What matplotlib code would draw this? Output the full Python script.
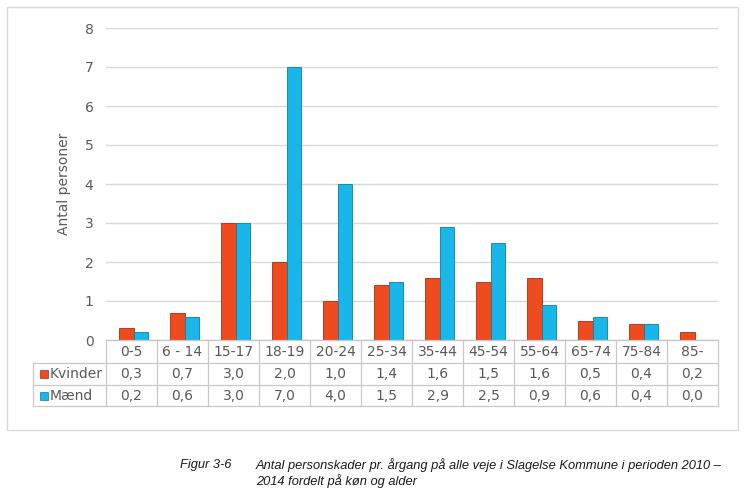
import matplotlib
matplotlib.use("Agg")
import matplotlib.pyplot as plt
from matplotlib.patches import Rectangle
from matplotlib.lines import Line2D
import numpy as np

categories = ["0-5", "6 - 14", "15-17", "18-19", "20-24", "25-34", "35-44",
              "45-54", "55-64", "65-74", "75-84", "85-"]
kvinder = [0.3, 0.7, 3.0, 2.0, 1.0, 1.4, 1.6, 1.5, 1.6, 0.5, 0.4, 0.2]
maend = [0.2, 0.6, 3.0, 7.0, 4.0, 1.5, 2.9, 2.5, 0.9, 0.6, 0.4, 0.0]
series_names = ["Kvinder", "Mænd"]
yticks = [0, 1, 2, 3, 4, 5, 6, 7, 8]

W, H = 746, 492
fig = plt.figure(figsize=(W / 100, H / 100), dpi=100)
fig.patch.set_facecolor("white")

def fx(px):
    return px / W

def fy(py):
    return 1 - py / H

# outer frame
fig.add_artist(Rectangle((fx(7), fy(430)), fx(738) - fx(7), fy(7) - fy(430),
                         transform=fig.transFigure, fill=False,
                         edgecolor="#D9D9D9", linewidth=1.0))

left, right, top, bottom = 106, 718, 28, 340
ax = fig.add_axes([fx(left), fy(bottom), fx(right) - fx(left), fy(top) - fy(bottom)])
n = len(categories)
x = np.arange(n)
ax.set_xlim(-0.5, n - 0.5)
ax.set_ylim(0, 8)

red = "#EE4B1E"
red_edge = "#A8300E"
blue = "#19B6EA"
blue_edge = "#0E7CA6"
bw = 0.29
ax.bar(x - bw / 2 + 0.04, kvinder, width=bw, color=red, edgecolor=red_edge, linewidth=0.6, zorder=3)
ax.bar(x + bw / 2 + 0.04, maend, width=bw, color=blue, edgecolor=blue_edge, linewidth=0.6, zorder=3)

ax.set_yticks(yticks)
ax.set_yticklabels([str(t) for t in yticks], fontsize=10, color="#595959")
ax.tick_params(axis="y", length=0, pad=9)
ax.set_xticks([])
ax.grid(axis="y", color="#D9D9D9", linewidth=1.0, zorder=0)
for s in ["top", "right", "left"]:
    ax.spines[s].set_visible(False)
ax.spines["bottom"].set_color("#C8C8C8")
ax.set_ylabel("Antal personer", fontsize=10, color="#595959", labelpad=10)

# data table
line_c = "#C8C8C8"
row_y = [340, 363, 385, 406]
tl, tr = 33, 718
colw = (right - left) / n
def add_line(x0, y0, x1, y1):
    fig.add_artist(Line2D([fx(x0), fx(x1)], [fy(y0), fy(y1)],
                          transform=fig.transFigure, color=line_c, linewidth=0.9))

add_line(left, row_y[0], right, row_y[0])
for yy in row_y[1:]:
    add_line(tl, yy, tr, yy)
add_line(tl, row_y[1], tl, row_y[3])
for i in range(n + 1):
    xx = left + i * colw
    add_line(xx, row_y[0], xx, row_y[3])

txt_c = "#595959"
for i, c in enumerate(categories):
    cx = left + (i + 0.5) * colw
    fig.text(fx(cx), fy((row_y[0] + row_y[1]) / 2), c, ha="center", va="center",
             fontsize=10, color=txt_c)
    fig.text(fx(cx), fy((row_y[1] + row_y[2]) / 2), f"{kvinder[i]:.1f}".replace(".", ","),
             ha="center", va="center", fontsize=10, color=txt_c)
    fig.text(fx(cx), fy((row_y[2] + row_y[3]) / 2), f"{maend[i]:.1f}".replace(".", ","),
             ha="center", va="center", fontsize=10, color=txt_c)

for j, (name, col, ec) in enumerate(zip(series_names, [red, blue], [red_edge, blue_edge])):
    yc = (row_y[j + 1] + row_y[j + 2]) / 2
    fig.add_artist(Rectangle((fx(40), fy(yc + 4)), fx(8), 8 / H, transform=fig.transFigure,
                             facecolor=col, edgecolor=ec, linewidth=0.5))
    fig.text(fx(50), fy(yc), name, ha="left", va="center", fontsize=10, color=txt_c)

# caption
cap_font = dict(family="Liberation Sans", style="italic", fontsize=9.3, color="#1a1a1a")
fig.text(fx(180), fy(465), "Figur 3-6", ha="left", va="center", **cap_font)
fig.text(fx(256), fy(465), "Antal personskader pr. årgang på alle veje i Slagelse Kommune i perioden 2010 –",
         ha="left", va="center", **cap_font)
fig.text(fx(256), fy(481), "2014 fordelt på køn og alder", ha="left", va="center", **cap_font)

fig.savefig("out.png", dpi=100, facecolor="white")
